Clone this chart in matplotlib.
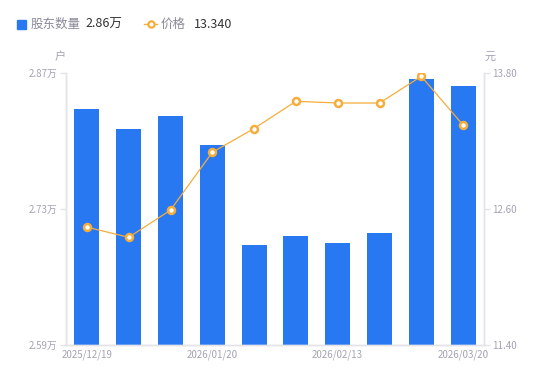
import matplotlib
matplotlib.use('Agg')
import matplotlib.pyplot as plt
from matplotlib.lines import Line2D
from matplotlib.patches import Rectangle

plt.rcParams['font.family'] = ['Noto Sans CJK SC', 'DejaVu Sans']

dates = ['2025/12/19', '2025/12/31', '2026/01/09', '2026/01/20', '2026/01/30',
         '2026/02/06', '2026/02/13', '2026/02/27', '2026/03/10', '2026/03/20']
holders = [2.833, 2.812, 2.826, 2.796, 2.693, 2.702, 2.695, 2.705, 2.864, 2.857]  # 万户
price = [12.44, 12.35, 12.59, 13.10, 13.31, 13.55, 13.535, 13.535, 13.77, 13.34]
left_ticks = [2.59, 2.73, 2.87]
right_ticks = [11.40, 12.60, 13.80]

bar_color = '#2878f2'
line_color = '#f5ad3b'
tick_color = '#a3a3b3'
axis_color = '#e3e3e8'

fig = plt.figure(figsize=(5.5, 3.81), dpi=100)
ax = fig.add_axes([0.12, 0.0945, 0.76, 0.714])
x = list(range(len(dates)))
ax.bar(x, holders, width=0.6, color=bar_color, zorder=2)
ax.set_xlim(-0.5, len(dates) - 0.5)
ax.set_ylim(left_ticks[0], left_ticks[-1])
ax.set_yticks(left_ticks)
ax.set_yticklabels([f'{v:.2f}万' for v in left_ticks])
ax.set_xticks(x[::3])
ax.set_xticklabels(dates[::3])

ax2 = ax.twinx()
ax2.plot(x, price, color=line_color, lw=0.9, marker='o', ms=5,
         mfc='white', mec=line_color, mew=1.8, zorder=3)
ax2.set_ylim(right_ticks[0], right_ticks[-1])
ax2.set_yticks(right_ticks)
ax2.set_yticklabels([f'{v:.2f}' for v in right_ticks])

for a in (ax, ax2):
    for s in a.spines.values():
        s.set_color(axis_color)
        s.set_linewidth(1)
    a.spines['top'].set_visible(False)
    a.tick_params(colors=tick_color, labelsize=7, length=4, width=1, pad=2)
    a.tick_params(axis='y', color=axis_color)
ax.tick_params(axis='x', length=0, pad=3)

fig.text(60 / 550, 1 - 57 / 381, '户', color=tick_color, fontsize=8, ha='center', va='center')
fig.text(490 / 550, 1 - 57 / 381, '元', color=tick_color, fontsize=8, ha='center', va='center')

# legend row
ly = 1 - 24 / 381
fig.patches.append(Rectangle((17 / 550, ly - 4.5 / 381), 9 / 550, 9 / 381,
                             color=bar_color, transform=fig.transFigure, figure=fig))
fig.text(31 / 550, ly, '股东数量', color='#8a8a99', fontsize=9, va='center')
fig.text(85 / 550, ly, f'{holders[-1]:.2f}万', color='#333333', fontsize=9, va='center')
fig.lines.append(Line2D([144 / 550, 157 / 550], [ly, ly], color=line_color, lw=1,
                        transform=fig.transFigure))
fig.lines.append(Line2D([150.5 / 550], [ly], color=line_color, marker='o', ms=4.5,
                        mfc='white', mec=line_color, mew=1.6, transform=fig.transFigure))
fig.text(161 / 550, ly, '价格', color='#8a8a99', fontsize=9, va='center')
fig.text(194 / 550, ly, f'{price[-1]:.3f}', color='#333333', fontsize=9, va='center')

fig.savefig('out.png', dpi=100)
